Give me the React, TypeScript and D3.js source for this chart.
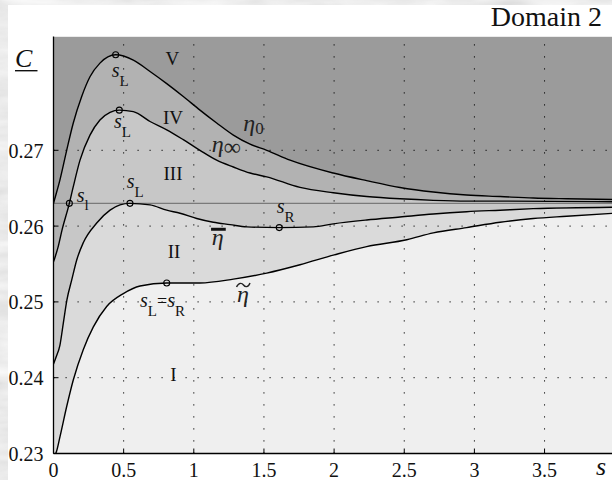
import React from 'react';
import * as d3 from 'd3';

const W = 612;
const H = 480;

// axis ticks
const xTicks = [0, 0.5, 1, 1.5, 2, 2.5, 3, 3.5];
const xTickLabels = ['0', '0.5', '1', '1.5', '2', '2.5', '3', '3.5'];
const yTicks = [0.23, 0.24, 0.25, 0.26, 0.27];
const yTickLabels = ['0.23', '0.24', '0.25', '0.26', '0.27'];
const cLevel = 0.263;

// curve eta_0 (boundary V / IV)
const eta0S = [0, 0.006, 0.046, 0.094, 0.141, 0.201, 0.26, 0.331, 0.443, 0.569, 0.688, 0.807, 0.925, 1.044, 1.163, 1.282, 1.401, 1.52, 1.686, 1.994, 2.232, 2.47, 2.707, 2.945, 3.183, 3.42, 3.658, 4.0];
const eta0C = [0.2630, 0.2634, 0.2661, 0.2700, 0.2736, 0.2771, 0.2797, 0.2815, 0.2826, 0.2819, 0.2804, 0.2788, 0.2771, 0.2753, 0.2736, 0.2720, 0.2708, 0.2700, 0.2687, 0.2670, 0.2660, 0.2651, 0.2645, 0.2641, 0.2639, 0.2637, 0.2636, 0.2635];

// curve eta_inf (boundary IV / III)
const etaInfS = [0, 0.011, 0.032, 0.061, 0.113, 0.141, 0.189, 0.26, 0.331, 0.403, 0.469, 0.569, 0.688, 0.807, 0.925, 1.044, 1.163, 1.282, 1.401, 1.52, 1.757, 1.994, 2.232, 2.47, 2.707, 2.945, 3.183, 4.0];
const etaInfC = [0.2553, 0.2559, 0.2572, 0.2595, 0.2630, 0.2652, 0.2687, 0.2720, 0.2740, 0.2750, 0.2753, 0.2751, 0.2738, 0.2727, 0.2714, 0.2700, 0.2687, 0.2678, 0.2670, 0.2665, 0.2651, 0.2644, 0.2639, 0.2636, 0.2634, 0.2633, 0.2633, 0.2632];

// curve eta_bar (boundary III / II)
const etaBarS = [0, 0.018, 0.046, 0.070, 0.096, 0.130, 0.165, 0.212, 0.308, 0.403, 0.474, 0.545, 0.688, 0.807, 0.902, 1.021, 1.139, 1.258, 1.377, 1.609, 1.852, 1.994, 2.232, 2.47, 2.707, 2.945, 3.183, 3.42, 4.0];
const etaBarC = [0.2418, 0.2427, 0.2443, 0.2472, 0.2503, 0.2529, 0.2555, 0.2578, 0.2604, 0.2621, 0.2628, 0.2630, 0.2628, 0.2621, 0.2617, 0.2610, 0.2605, 0.2602, 0.2599, 0.2598, 0.2599, 0.2603, 0.2608, 0.2612, 0.2616, 0.2619, 0.2621, 0.2623, 0.2625];

// curve eta_tilde (boundary II / I)
const etaTilS = [0, 0.020, 0.046, 0.094, 0.141, 0.212, 0.284, 0.379, 0.498, 0.617, 0.807, 1.044, 1.282, 1.52, 1.757, 2.001, 2.232, 2.518, 2.707, 2.945, 3.183, 3.42, 3.658, 4.0];
const etaTilC = [0.2296, 0.2302, 0.2322, 0.2362, 0.2397, 0.2437, 0.2467, 0.2494, 0.2511, 0.2521, 0.2525, 0.2525, 0.2530, 0.2538, 0.2549, 0.2562, 0.2573, 0.2582, 0.2591, 0.2598, 0.2605, 0.2610, 0.2613, 0.2617];

// region labels
const regionNames = ['V', 'IV', 'III', 'II', 'I'];
const regionS = [0.847, 0.852, 0.852, 0.859, 0.854];
const regionC = [0.2812, 0.2735, 0.2661, 0.2558, 0.2395];

// marked points
const markS = [0.443, 0.469, 0.113, 0.545, 1.609, 0.807];
const markC = [0.2826, 0.2753, 0.263, 0.263, 0.2598, 0.2525];

// marked point labels
const markLabelS = [0.415, 0.431, 0.165, 0.522, 1.591];
const markLabelC = [0.27967, 0.27294, 0.26322, 0.26503, 0.26173];
const markLabelSub = ['L', 'L', 'l', 'L', 'R'];
const jointLabelS = 0.617;
const jointLabelC = 0.24937;

// curve labels
const eta0Label = { s: 1.353, c: 0.27255 };
const etaInfLabel = { s: 1.128, c: 0.26978 };
const etaBarLabel = { s: 1.128, c: 0.25751 };
const etaTilLabel = { s: 1.308, c: 0.24999 };

const regionColors = ['#9b9b9b', '#b2b2b2', '#c7c7c7', '#dadada', '#efefef'];
const FONT = "'Liberation Serif', 'DejaVu Serif', serif";

const x = d3.scaleLinear().domain([0, 4]).range([53.5, 614.7]);
const y = d3.scaleLinear().domain([0.23, 0.285]).range([453.5, 36.6]);

function pts(sArr: number[], cArr: number[]): [number, number][] {
  return sArr.map((s, i) => [s, cArr[i]] as [number, number]);
}

const curves = [pts(eta0S, eta0C), pts(etaInfS, etaInfC), pts(etaBarS, etaBarC), pts(etaTilS, etaTilC)];

const lineGen = d3.line<[number, number]>().x(d => x(d[0])).y(d => y(d[1])).curve(d3.curveMonotoneX);
const areaGen = d3.area<[number, number]>().x(d => x(d[0])).y0(y(0.22)).y1(d => y(d[1])).curve(d3.curveMonotoneX);

const tf = { fontFamily: FONT };

export default function App() {
  const left = x(0), right = x(4), top = y(0.285), bottom = y(0.23);
  const tx = x(etaTilLabel.s), ty = y(etaTilLabel.c);
  const bx = x(etaBarLabel.s), by = y(etaBarLabel.c);
  return (
    <svg width={W} height={H} style={{ position: 'absolute', left: 0, top: 0, display: 'block', fontFamily: FONT }}>
      <defs>
        <filter id="marble" x="0" y="0" width="100%" height="100%">
          <feTurbulence type="fractalNoise" baseFrequency="0.012 0.05" numOctaves={4} seed={7} />
          <feColorMatrix type="matrix" values="0.22 0.22 0.22 0 0.5  0.22 0.22 0.22 0 0.5  0.22 0.22 0.22 0 0.5  0 0 0 0 1" />
        </filter>
        <clipPath id="plotClip">
          <rect x={left} y={top} width={right - left} height={bottom - top} />
        </clipPath>
      </defs>
      <rect x={0} y={0} width={W} height={H} fill="#d8d8d8" />
      <rect x={0} y={0} width={W} height={H} filter="url(#marble)" />
      <rect x={8} y={5} width={W - 8} height={H - 5} fill="#ffffff" />

      <g clipPath="url(#plotClip)">
        <rect x={left} y={top} width={right - left} height={bottom - top} fill={regionColors[0]} />
        {curves.map((c, i) => (
          <path key={'a' + i} d={areaGen(c) || ''} fill={regionColors[i + 1]} />
        ))}
        {xTicks.slice(1).map((t, i) => (
          <line key={'gx' + i} x1={x(t)} x2={x(t)} y1={bottom} y2={top} stroke="#000" strokeWidth={1} strokeDasharray="1.2 10.8" />
        ))}
        {yTicks.slice(1).map((t, i) => (
          <line key={'gy' + i} x1={left} x2={right} y1={y(t)} y2={y(t)} stroke="#000" strokeWidth={1} strokeDasharray="1.2 10.8" />
        ))}
        <line x1={left} x2={right} y1={y(cLevel)} y2={y(cLevel)} stroke="#7a7a7a" strokeWidth={1.2} />
        {curves.map((c, i) => (
          <path key={'l' + i} d={lineGen(c) || ''} fill="none" stroke="#000" strokeWidth={1.4} />
        ))}
        {markS.map((s, i) => (
          <circle key={'m' + i} cx={x(s)} cy={y(markC[i])} r={3} fill="none" stroke="#000" strokeWidth={1.1} />
        ))}
      </g>

      {/* axes */}
      <line x1={left} x2={left} y1={top} y2={bottom} stroke="#000" strokeWidth={1.3} />
      <line x1={left} x2={W} y1={bottom} y2={bottom} stroke="#000" strokeWidth={1.3} />
      {xTicks.map((t, i) => (
        <line key={'tx' + i} x1={x(t)} x2={x(t)} y1={bottom} y2={bottom - 5} stroke="#000" strokeWidth={1} />
      ))}
      {yTicks.map((t, i) => (
        <line key={'ty' + i} x1={left} x2={left + 5} y1={y(t)} y2={y(t)} stroke="#000" strokeWidth={1} />
      ))}
      {xTicks.map((t, i) => (
        <text key={'xl' + i} style={tf} x={x(t)} y={477} fontSize={20} textAnchor="middle" fill="#111">{xTickLabels[i]}</text>
      ))}
      {yTicks.map((t, i) => (
        <text key={'yl' + i} style={tf} x={43.5} y={y(t) + 7.5} fontSize={20} textAnchor="end" fill="#111">{yTickLabels[i]}</text>
      ))}

      {/* axis titles */}
      <text style={tf} x={15} y={67} fontSize={26} fontStyle="italic" fill="#111">C</text>
      <line x1={15} x2={37.5} y1={70.7} y2={70.7} stroke="#111" strokeWidth={1.4} />
      <text style={tf} x={596} y={475} fontSize={26} fontStyle="italic" fill="#111">s</text>
      <text style={tf} x={602} y={26} fontSize={28} textAnchor="end" fill="#111">Domain 2</text>

      {/* region labels */}
      {regionNames.map((n, i) => (
        <text key={'r' + i} style={tf} x={x(regionS[i])} y={y(regionC[i])} fontSize={19} textAnchor="middle" fill="#111">{n}</text>
      ))}

      {/* point labels */}
      {markLabelS.map((s, i) => (
        <text key={'pl' + i} style={tf} x={x(s)} y={y(markLabelC[i])} fontSize={20} fill="#111">
          <tspan fontStyle="italic">s</tspan>
          <tspan fontSize={15} dy={markLabelSub[i] === 'l' ? 8 : 9}>{markLabelSub[i]}</tspan>
        </text>
      ))}
      <text style={tf} x={x(jointLabelS)} y={y(jointLabelC)} fontSize={20} fill="#111">
        <tspan fontStyle="italic">s</tspan>
        <tspan fontSize={15} dy={9}>L</tspan>
        <tspan fontSize={18} dy={-9}>=</tspan>
        <tspan fontStyle="italic">s</tspan>
        <tspan fontSize={15} dy={9}>R</tspan>
      </text>

      {/* curve labels */}
      <text style={tf} x={x(eta0Label.s)} y={y(eta0Label.c)} fontSize={24} fill="#222">
        <tspan fontStyle="italic">η</tspan>
        <tspan fontSize={17} dy={3}>0</tspan>
      </text>
      <text style={tf} x={x(etaInfLabel.s)} y={y(etaInfLabel.c)} fontSize={24} fill="#222">
        <tspan fontStyle="italic">η</tspan>
        <tspan fontSize={24} dy={3}>∞</tspan>
      </text>
      <text style={tf} x={bx} y={by} fontSize={24} fontStyle="italic" fill="#222">η</text>
      <line x1={bx - 0.7} x2={bx + 14} y1={by - 15.7} y2={by - 15.7} stroke="#111" strokeWidth={3} />
      <text style={tf} x={tx} y={ty} fontSize={24} fontStyle="italic" fill="#222">η</text>
      <path d={`M${tx - 0.5},${ty - 15} C${tx + 2},${ty - 20} ${tx + 5},${ty - 19} ${tx + 6.5},${ty - 17} S${tx + 11},${ty - 14} ${tx + 13},${ty - 19}`} fill="none" stroke="#222" strokeWidth={1.4} />
    </svg>
  );
}
